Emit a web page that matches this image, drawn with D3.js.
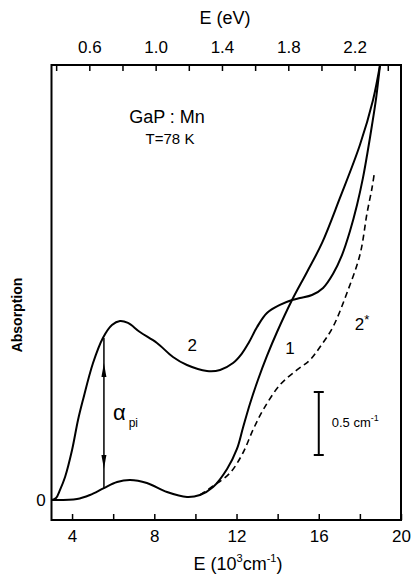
<html>
<head>
  <title>GaP:Mn absorption</title>
  <script src="https://cdnjs.cloudflare.com/ajax/libs/d3/7.8.5/d3.min.js"></script>
  <style>
    body { margin: 0; background: #fff; }
    text { font-family: "Liberation Sans", Arial, sans-serif; fill: #000; }
  </style>
</head>
<body>
<script>
  // spectra, E in 10^3 cm^-1, absorption in cm^-1
  var curve2E = [3.02, 3.22, 3.41, 3.66, 4.00, 4.29, 4.53, 5.02, 5.50, 5.94, 6.33, 6.72, 7.30, 8.13, 8.91, 9.59, 10.56, 11.20, 11.83, 12.25, 12.60, 13.00, 13.48, 14.11, 14.70, 15.09, 15.67, 16.21, 16.69, 17.13, 17.52, 17.86, 18.15, 18.35, 18.59, 18.79, 18.98];
  var curve2A = [0, 0.016, 0.079, 0.183, 0.397, 0.635, 0.794, 1.087, 1.286, 1.389, 1.421, 1.405, 1.333, 1.246, 1.135, 1.071, 1.024, 1.032, 1.087, 1.160, 1.250, 1.373, 1.484, 1.548, 1.587, 1.603, 1.627, 1.683, 1.794, 1.944, 2.135, 2.341, 2.556, 2.738, 2.976, 3.190, 3.452];

  var curve1E = [3.02, 4.24, 4.87, 5.55, 6.19, 6.82, 7.64, 8.62, 9.59, 10.22, 10.86, 11.54, 12.02, 12.31, 12.65, 13.04, 13.48, 13.97, 14.70, 15.43, 16.16, 17.03, 18.00, 18.64, 18.98];
  var curve1A = [0, 0.008, 0.040, 0.095, 0.143, 0.159, 0.135, 0.063, 0.024, 0.040, 0.103, 0.246, 0.405, 0.571, 0.762, 0.952, 1.143, 1.333, 1.587, 1.810, 2.040, 2.397, 2.817, 3.175, 3.452];

  var curve2sE = [10.22, 10.86, 11.68, 12.31, 12.80, 13.29, 14.11, 14.94, 15.57, 16.06, 16.69, 17.37, 18.00, 18.35, 18.59, 18.69];
  var curve2sA = [0.040, 0.111, 0.214, 0.373, 0.556, 0.714, 0.913, 1.032, 1.111, 1.214, 1.373, 1.643, 1.944, 2.278, 2.476, 2.579];

  var bottomTicks = [4, 6, 8, 10, 12, 14, 16, 18, 20];
  var bottomLabels = [4, 8, 12, 16, 20];
  var topTicks = [0.4, 0.6, 0.8, 1.0, 1.2, 1.4, 1.6, 1.8, 2.0, 2.2, 2.4];
  var topLabels = [0.6, 1.0, 1.4, 1.8, 2.2];

  var alphaE = 5.55, alphaTop = 1.286, alphaBottom = 0.095;
  var barE = 16.0, barLow = 0.357, barHigh = 0.857;

  var cmPerEV = 8.0655;

  var width = 412, height = 581;
  var frameL = 51.5, frameR = 401, frameT = 65, frameB = 520;

  var svg = d3.select("body")
    .append("svg")
    .attr("width", width)
    .attr("height", height);

  var x = d3.scaleLinear().domain([3, 20]).range([frameL, frameR]);
  var xTop = d3.scaleLinear().domain([3 / cmPerEV, 20 / cmPerEV]).range([frameL, frameR]);
  var y = d3.scaleLinear().domain([0, 3.452]).range([500, frameT]);

  // ticks inside the frame
  var bAxis = d3.axisBottom(x).tickValues(bottomTicks).tickSize(-6)
    .tickFormat(function (d) { return bottomLabels.indexOf(d) >= 0 ? d : ""; });
  var tAxis = d3.axisTop(xTop).tickValues(topTicks).tickSize(-6)
    .tickFormat(function (d) {
      return topLabels.some(function (v) { return Math.abs(v - d) < 1e-6; }) ? d3.format(".1f")(d) : "";
    });

  var gb = svg.append("g").attr("transform", "translate(0," + frameB + ")").call(bAxis);
  var gt = svg.append("g").attr("transform", "translate(0," + frameT + ")").call(tAxis);
  [gb, gt].forEach(function (g) {
    g.select(".domain").remove();
    g.selectAll(".tick line").attr("stroke", "#000").attr("stroke-width", 1.5);
    g.selectAll(".tick text").attr("font-size", 17).attr("font-family", "Liberation Sans, Arial, sans-serif");
  });
  gb.selectAll(".tick text").attr("y", 10);
  gt.selectAll(".tick text").attr("y", -12);

  svg.append("rect")
    .attr("x", frameL).attr("y", frameT)
    .attr("width", frameR - frameL).attr("height", frameB - frameT)
    .attr("fill", "none").attr("stroke", "#000").attr("stroke-width", 2);

  var line = d3.line()
    .x(function (d) { return x(d[0]); })
    .y(function (d) { return y(d[1]); })
    .curve(d3.curveCatmullRom.alpha(0.5));

  function pairs(es, as) {
    return es.map(function (e, i) { return [e, as[i]]; });
  }

  svg.append("path").datum(pairs(curve2E, curve2A))
    .attr("d", line).attr("fill", "none").attr("stroke", "#000").attr("stroke-width", 2);
  svg.append("path").datum(pairs(curve1E, curve1A))
    .attr("d", line).attr("fill", "none").attr("stroke", "#000").attr("stroke-width", 2);
  svg.append("path").datum(pairs(curve2sE, curve2sA))
    .attr("d", line).attr("fill", "none").attr("stroke", "#000").attr("stroke-width", 1.6)
    .attr("stroke-dasharray", "6,4");

  // alpha_pi double arrow
  var ax = x(alphaE), ay1 = y(alphaTop), ay2 = y(alphaBottom);
  svg.append("line").attr("x1", ax).attr("x2", ax).attr("y1", ay1).attr("y2", ay2)
    .attr("stroke", "#000").attr("stroke-width", 1.5);
  var tipTop = ay1 + 25, tipBot = ay2 - 19;
  svg.append("path")
    .attr("d", "M" + ax + "," + tipTop + "L" + (ax - 2.5) + "," + (tipTop + 14) + "L" + (ax + 2.5) + "," + (tipTop + 14) + "Z")
    .attr("fill", "#000");
  svg.append("path")
    .attr("d", "M" + ax + "," + tipBot + "L" + (ax - 2.5) + "," + (tipBot - 14) + "L" + (ax + 2.5) + "," + (tipBot - 14) + "Z")
    .attr("fill", "#000");
  var al = svg.append("text").attr("x", ax + 9).attr("y", 420).attr("font-size", 22);
  al.append("tspan").text("α");
  al.append("tspan").attr("font-size", 12).attr("dx", 3).attr("dy", 7).text("pi");

  // scale bar
  var bx = x(barE);
  svg.append("line").attr("x1", bx).attr("x2", bx).attr("y1", y(barHigh)).attr("y2", y(barLow))
    .attr("stroke", "#000").attr("stroke-width", 2);
  [barHigh, barLow].forEach(function (v) {
    svg.append("line").attr("x1", bx - 5).attr("x2", bx + 5).attr("y1", y(v)).attr("y2", y(v))
      .attr("stroke", "#000").attr("stroke-width", 2);
  });
  var bt = svg.append("text").attr("x", bx + 13).attr("y", 427).attr("font-size", 13);
  bt.append("tspan").text("0.5 cm");
  bt.append("tspan").attr("font-size", 9).attr("dy", -6).text("-1");

  // curve labels
  svg.append("text").attr("x", x(9.84)).attr("y", y(1.23) + 6).attr("text-anchor", "middle")
    .attr("font-size", 17).text("2");
  svg.append("text").attr("x", x(14.6)).attr("y", y(1.206) + 6).attr("text-anchor", "middle")
    .attr("font-size", 17).text("1");
  var s2 = svg.append("text").attr("x", x(18.1)).attr("y", y(1.4) + 6).attr("text-anchor", "middle")
    .attr("font-size", 17);
  s2.append("tspan").text("2");
  s2.append("tspan").attr("font-size", 13).attr("dy", -6).text("*");

  // sample labels
  svg.append("text").attr("x", 167).attr("y", 123).attr("text-anchor", "middle")
    .attr("font-size", 18).text("GaP : Mn");
  svg.append("text").attr("x", 170).attr("y", 144).attr("text-anchor", "middle")
    .attr("font-size", 15).text("T=78 K");

  // zero label
  svg.append("text").attr("x", 41).attr("y", y(0) + 6).attr("text-anchor", "middle")
    .attr("font-size", 17).text("0");

  // axis titles
  svg.append("text").attr("x", 225).attr("y", 24).attr("text-anchor", "middle")
    .attr("font-size", 18).text("E (eV)");
  var bt2 = svg.append("text").attr("x", 238).attr("y", 570).attr("text-anchor", "middle")
    .attr("font-size", 18);
  bt2.append("tspan").text("E (10");
  bt2.append("tspan").attr("font-size", 11).attr("dy", -8).text("3");
  bt2.append("tspan").attr("dy", 8).text("cm");
  bt2.append("tspan").attr("font-size", 11).attr("dy", -8).text("-1");
  bt2.append("tspan").attr("dy", 8).text(")");

  svg.append("text").attr("transform", "translate(22,315) rotate(-90)")
    .attr("text-anchor", "middle").attr("font-size", 14).attr("font-weight", "bold")
    .text("Absorption");
</script>
</body>
</html>
